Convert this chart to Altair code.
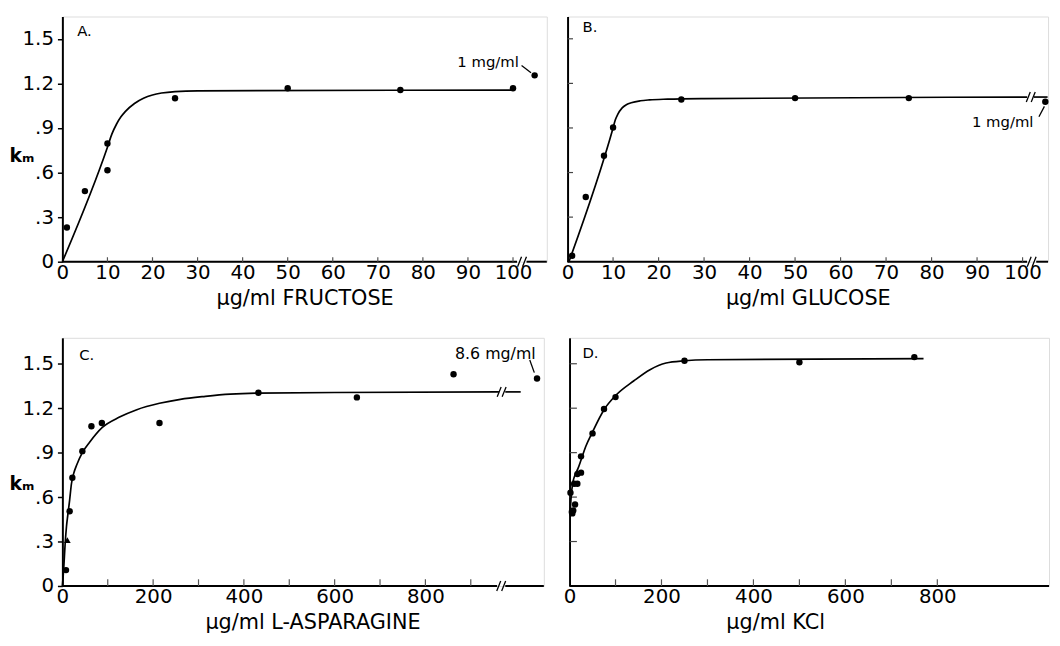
import altair as alt
import pandas as pd

FONT = "DejaVu Sans"

# ---------------- Panel A: fructose ----------------
A_pts_x = [1, 5, 10, 10, 25, 50, 75, 100]
A_pts_y = [0.23, 0.475, 0.795, 0.615, 1.10, 1.167, 1.155, 1.167]
A_far_x = [104.8]
A_far_y = [1.254]
A_curve_x = [0, 10, 11, 12, 13, 14, 16, 18, 20, 22, 25, 30, 100]
A_curve_y = [0, 0.77, 0.86, 0.925, 0.975, 1.012, 1.065, 1.10, 1.122, 1.135, 1.145, 1.15, 1.155]
A_ticks = [0, 10, 20, 30, 40, 50, 60, 70, 80, 90, 100]

# ---------------- Panel B: glucose ----------------
B_pts_x = [1, 4, 8, 10, 25, 50, 75]
B_pts_y = [0.04, 0.435, 0.713, 0.903, 1.092, 1.101, 1.101]
B_far_x = [105]
B_far_y = [1.076]
B_curve_x = [0.3, 10, 10.5, 11, 12, 13, 14, 16, 18, 22, 30, 101]
B_curve_y = [0, 0.90, 0.955, 0.99, 1.035, 1.058, 1.07, 1.083, 1.089, 1.094, 1.098, 1.108]
B_curve2_x = [102.5, 105.5]
B_curve2_y = [1.108, 1.108]
B_ticks = [0, 10, 20, 30, 40, 50, 60, 70, 80, 90, 100]

# ---------------- Panel C: L-asparagine ----------------
C_pts_x = [8, 16, 22, 44, 64, 87, 214, 432, 649, 862]
C_pts_y = [0.107, 0.504, 0.73, 0.91, 1.078, 1.10, 1.10, 1.304, 1.273, 1.429]
C_tri_x = [11]
C_tri_y = [0.31]
C_far_x = [1046]
C_far_y = [1.40]
C_curve_x = [0, 3, 6, 9, 12, 16, 20, 25, 32, 44, 60, 88, 126, 164, 214, 260, 315, 370, 432, 600, 962]
C_curve_y = [0, 0.12, 0.28, 0.40, 0.48, 0.58, 0.69, 0.76, 0.82, 0.90, 0.97, 1.07, 1.14, 1.19, 1.233,
             1.26, 1.28, 1.295, 1.302, 1.306, 1.31]
C_curve2_x = [976, 1010]
C_curve2_y = [1.31, 1.31]
C_ticks = [0, 200, 400, 600, 800]

# ---------------- Panel D: KCl ----------------
D_pts_x = [2, 5, 6, 8, 12, 10, 17, 17, 25, 25, 50, 75, 100, 250, 500, 750]
D_pts_y = [0.63, 0.50, 0.49, 0.51, 0.55, 0.69, 0.69, 0.755, 0.765, 0.875, 1.03, 1.195, 1.275,
           1.52, 1.51, 1.545]
D_curve_x = [1, 3, 5, 8, 12, 18, 25, 35, 50, 75, 100, 140, 175, 210, 250, 300, 770]
D_curve_y = [0.48, 0.58, 0.65, 0.71, 0.75, 0.79, 0.85, 0.94, 1.04, 1.19, 1.285, 1.385, 1.46,
             1.505, 1.52, 1.527, 1.535]
D_ticks = [0, 200, 400, 600, 800]

Y_TICKS = [0, 0.3, 0.6, 0.9, 1.2, 1.5]
Y_LABEL_EXPR = ("datum.value == 0 ? '0' : (datum.value < 1 ? slice(format(datum.value, '.1f'), 1)"
                " : format(datum.value, '.1f'))")


def panel(cfg):
    xmax, ymax, w, h = cfg["xmax"], cfg["ymax"], cfg["w"], cfg["h"]
    ux, uy = xmax / w, ymax / h  # data units per pixel, for the small break slashes
    xaxis_kw = dict(values=cfg["xvals"], format="d", title=cfg["xtitle"], domain=False, ticks=False,
                    grid=False, labelFontSize=20, labelFont=FONT, labelColor="black", labelPadding=1,
                    labelFlush=False, labelOverlap=False, titleFont=FONT, titleFontSize=21,
                    titleFontWeight="normal", titleColor="black", titlePadding=5)
    if "title_x" in cfg:
        xaxis_kw["titleX"] = cfg["title_x"]
    X = alt.X("x:Q", scale=alt.Scale(domain=[0, xmax], nice=False, zero=False),
              axis=alt.Axis(**xaxis_kw))
    if cfg["ylabels"]:
        yaxis = alt.Axis(values=Y_TICKS, labelExpr=Y_LABEL_EXPR, title="kₘ", titleAngle=0,
                         titleAlign="left", titleBaseline="middle", titleX=-54, titleY=cfg["title_y"],
                         titleFont=FONT, titleFontSize=19, titleFontWeight="bold", titleColor="black",
                         tickSize=5, tickWidth=1.5, tickColor="black", domainWidth=2,
                         domainColor="black", labelFontSize=20, labelFont=FONT, labelColor="black",
                         labelPadding=4, grid=False, labelFlush=False)
    else:
        yaxis = alt.Axis(values=Y_TICKS, labels=False, ticks=False, title=None, domainWidth=2,
                         domainColor="black", grid=False)
    Y = alt.Y("y:Q", scale=alt.Scale(domain=[0, ymax], nice=False, zero=False), axis=yaxis)

    layers = []
    # x axis line (with break)
    seg = pd.DataFrame({"x": [s[0] for s in cfg["axis_segs"]], "x2": [s[1] for s in cfg["axis_segs"]],
                        "y": [0] * len(cfg["axis_segs"])})
    layers.append(alt.Chart(seg).mark_rule(color="black", strokeWidth=2).encode(x=X, x2="x2:Q", y=Y))
    # inward x ticks
    xt = pd.DataFrame({"x": cfg["xt"], "y": [0] * len(cfg["xt"]), "y2": [cfg["xt_len"]] * len(cfg["xt"])})
    layers.append(alt.Chart(xt).mark_rule(color="#555555", strokeWidth=1.2).encode(x=X, y=Y, y2="y2:Q"))
    # inward y ticks
    if cfg.get("yt"):
        yt = pd.DataFrame({"x": [0] * len(cfg["yt"]), "x2": [cfg["yt_len"]] * len(cfg["yt"]), "y": cfg["yt"]})
        layers.append(alt.Chart(yt).mark_rule(color="#444444", strokeWidth=1.2).encode(x=X, x2="x2:Q", y=Y))
    # fitted curves
    rows = []
    for i, (cx, cy) in enumerate(cfg["curves"]):
        for a, b in zip(cx, cy):
            rows.append({"x": a, "y": b, "seg": i})
    cur = pd.DataFrame(rows)
    layers.append(alt.Chart(cur).mark_line(color="black", strokeWidth=1.7, interpolate="monotone").encode(
        x=X, y=Y, detail="seg:N"))
    # data points
    pts = pd.DataFrame({"x": cfg["px"] + cfg["fx"], "y": cfg["py"] + cfg["fy"]})
    layers.append(alt.Chart(pts).mark_point(filled=True, color="black", opacity=1, size=42).encode(x=X, y=Y))
    if cfg.get("tx"):
        tri = pd.DataFrame({"x": cfg["tx"], "y": cfg["ty"]})
        layers.append(alt.Chart(tri).mark_point(filled=True, color="black", opacity=1, size=45,
                                                shape="triangle-up").encode(x=X, y=Y))
    # break marks "//" drawn as two short slanted strokes
    if cfg.get("breaks"):
        brows = []
        for bx, by in cfg["breaks"]:
            for off in (-2.5, 2.5):
                brows.append({"x": bx + (off - 2) * ux, "y": by - 5 * uy,
                              "x2": bx + (off + 2) * ux, "y2": by + 5 * uy})
        br = pd.DataFrame(brows)
        layers.append(alt.Chart(br).mark_rule(color="black", strokeWidth=1.3).encode(
            x=X, y=Y, x2="x2:Q", y2="y2:Q"))
    # annotation text and arrows
    if cfg.get("note"):
        nx, ny, nt, nsize = cfg["note"]
        nd = pd.DataFrame({"x": [nx], "y": [ny], "t": [nt]})
        layers.append(alt.Chart(nd).mark_text(font=FONT, fontSize=nsize, color="black", align="right",
                                              baseline="middle").encode(x=X, y=Y, text="t:N"))
        ax0, ay0, ax1, ay1 = cfg["arrow"]
        ad = pd.DataFrame({"x": [ax0], "y": [ay0], "x2": [ax1], "y2": [ay1]})
        layers.append(alt.Chart(ad).mark_rule(color="black", strokeWidth=1.3).encode(
            x=X, y=Y, x2="x2:Q", y2="y2:Q"))
    # panel letter
    lx, ly, lt = cfg["letter"]
    ld = pd.DataFrame({"x": [lx], "y": [ly], "t": [lt]})
    layers.append(alt.Chart(ld).mark_text(font=FONT, fontSize=15, color="black", align="left",
                                          baseline="middle").encode(x=X, y=Y, text="t:N"))
    return alt.layer(*layers).properties(width=w, height=h)


A = panel(dict(xmax=107.5, ymax=1.65, w=490, h=248, xvals=A_ticks, xtitle="μg/ml FRUCTOSE",
               ylabels=True, title_y=141,
               axis_segs=[(0, 100.9), (103, 107.5)], xt=A_ticks[1:], xt_len=0.03,
               curves=[(A_curve_x, A_curve_y)], px=A_pts_x, py=A_pts_y, fx=A_far_x, fy=A_far_y,
               breaks=[(102, 0.0)], note=(101.3, 1.344, "1 mg/ml", 15),
               arrow=(101.9, 1.32, 104.0, 1.272), letter=(3.3, 1.55, "A.")))

B = panel(dict(xmax=105.6, ymax=1.65, w=486, h=248, xvals=B_ticks, xtitle="μg/ml GLUCOSE",
               ylabels=False, axis_segs=[(0, 101), (103, 105.6)], xt=B_ticks[1:], xt_len=0.03,
               yt=Y_TICKS[1:], yt_len=1.2,
               curves=[(B_curve_x, B_curve_y), (B_curve2_x, B_curve2_y)], px=B_pts_x, py=B_pts_y,
               fx=B_far_x, fy=B_far_y, breaks=[(102, 0.0), (101.8, 1.108)],
               note=(102.4, 0.94, "1 mg/ml", 15), arrow=(103.6, 0.975, 104.8, 1.045),
               letter=(3.3, 1.58, "B.")))

C = panel(dict(xmax=1061, ymax=1.675, w=487, h=251, xvals=C_ticks, xtitle="μg/ml L-ASPARAGINE",
               ylabels=True, title_y=147, title_x=253,
               axis_segs=[(0, 958), (976, 1061)], xt=[100, 200, 300, 400, 500, 600, 700, 800, 900],
               xt_len=0.045, curves=[(C_curve_x, C_curve_y), (C_curve2_x, C_curve2_y)],
               px=C_pts_x, py=C_pts_y, fx=C_far_x, fy=C_far_y, tx=C_tri_x, ty=C_tri_y,
               breaks=[(967, 0.0), (968, 1.31)], note=(1043, 1.565, "8.6 mg/ml", 16),
               arrow=(1030, 1.525, 1040, 1.44), letter=(37, 1.56, "C.")))

D = panel(dict(xmax=1043, ymax=1.675, w=485, h=251, xvals=D_ticks, xtitle="μg/ml KCl",
               ylabels=False, title_x=208, axis_segs=[(0, 1043)],
               xt=[100, 200, 300, 400, 500, 600, 700, 800], xt_len=0.045,
               yt=Y_TICKS[1:], yt_len=16,
               curves=[(D_curve_x, D_curve_y)], px=D_pts_x, py=D_pts_y, fx=[], fy=[],
               letter=(28, 1.57, "D.")))

top = alt.hconcat(A, B, spacing=12)
bottom = alt.hconcat(C, D, spacing=17)
chart = alt.vconcat(top, bottom, spacing=28).properties(
    padding={"left": 0, "top": 4, "right": 0, "bottom": 0}
).configure_view(stroke=None).configure(background="white")

chart.save("out.html", embed_options={"renderer": "svg", "actions": False})
